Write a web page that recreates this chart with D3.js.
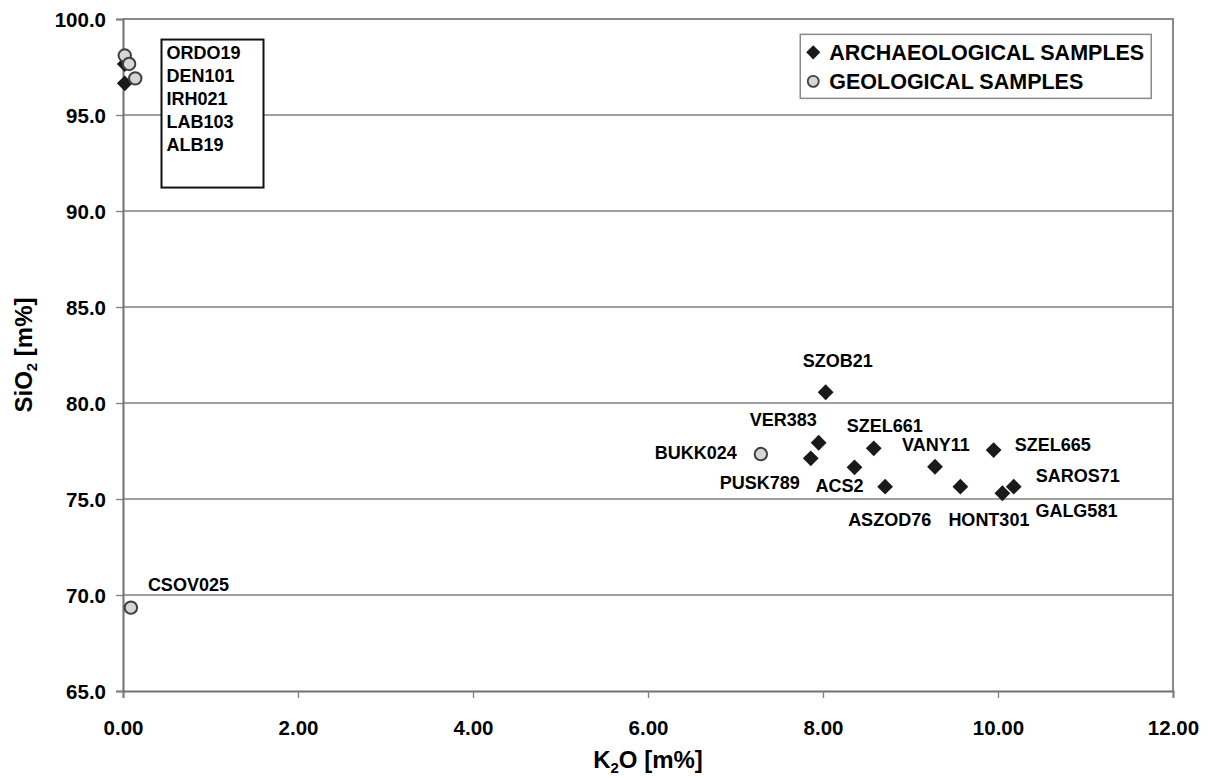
<!DOCTYPE html>
<html>
<head>
<meta charset="utf-8">
<script src="https://cdn.jsdelivr.net/npm/d3@7"></script>
<style>
  body { margin: 0; background: #fff; }
  text { font-family: "Liberation Sans", Arial, sans-serif; font-weight: bold; fill: #000; }
</style>
</head>
<body>
<svg width="1209" height="778"></svg>
<script>
// archaeological samples (diamonds)
const archNames = ['IRH021', 'ALB19', 'SZOB21', 'VER383', 'PUSK789', 'ACS2', 'SZEL661', 'ASZOD76', 'VANY11', 'HONT301', 'SZEL665', 'GALG581', 'SAROS71']
const archK2O   = [0.02, 0.02, 8.03, 7.95, 7.86, 8.36, 8.58, 8.71, 9.28, 9.57, 9.95, 10.05, 10.18]
const archSiO2  = [96.65, 97.65, 80.56, 77.93, 77.12, 76.65, 77.64, 75.64, 76.68, 75.64, 77.55, 75.30, 75.64]

// geological samples (circles)
const geoNames = ['ORDO19', 'DEN101', 'LAB103', 'BUKK024', 'CSOV025']
const geoK2O   = [0.02, 0.07, 0.14, 7.29, 0.09]
const geoSiO2  = [98.10, 97.66, 96.91, 77.34, 69.34]

const xTicks = [0, 2, 4, 6, 8, 10, 12]
const yTicks = [65, 70, 75, 80, 85, 90, 95, 100]
const boxLabels = ['ORDO19', 'DEN101', 'IRH021', 'LAB103', 'ALB19']
const legendLabels = ['ARCHAEOLOGICAL SAMPLES', 'GEOLOGICAL SAMPLES']

// label placement relative to the point (pixels), only for labelled points
const labelPos = {
    SZOB21:  [-23, -32, 'start'],
    VER383:  [-69, -23, 'start'],
    PUSK789: [-11, 24, 'end'],
    ACS2:    [-39, 18, 'start'],
    SZEL661: [-27, -23, 'start'],
    ASZOD76: [-37, 33, 'start'],
    VANY11:  [-33, -22, 'start'],
    HONT301: [-12, 33, 'start'],
    SZEL665: [21, -5, 'start'],
    GALG581: [33, 17, 'start'],
    SAROS71: [22, -11, 'start'],
    BUKK024: [-24, -1, 'end'],
    CSOV025: [17, -23, 'start']
}

const arch = archNames.map((n, i) => ({ name: n, x: archK2O[i], y: archSiO2[i] }))
const geo = geoNames.map((n, i) => ({ name: n, x: geoK2O[i], y: geoSiO2[i] }))

const svg = d3.select('svg')
const margin = { top: 19, right: 36, bottom: 87, left: 123 },
      width = +svg.attr('width') - margin.left - margin.right,
      height = +svg.attr('height') - margin.top - margin.bottom

const x = d3.scaleLinear().domain([0, 12]).range([0, width])
const y = d3.scaleLinear().domain([65, 100]).range([height, 0])

const g = svg.append('g').attr('transform', `translate(${margin.left},${margin.top})`)

// gridlines
g.append('g').selectAll('line')
    .data(yTicks.slice(1))
    .join('line')
    .attr('x1', 0).attr('x2', width)
    .attr('y1', d => y(d)).attr('y2', d => y(d))
    .attr('stroke', '#808080').attr('stroke-width', 1.3)

// plot border (top + right)
g.append('path')
    .attr('d', `M0,0H${width}V${height}`)
    .attr('fill', 'none').attr('stroke', '#8a8a8a').attr('stroke-width', 2)

// axes
const xAxis = g.append('g')
    .attr('transform', `translate(0,${height})`)
    .call(d3.axisBottom(x).tickValues(xTicks).tickFormat(d3.format('.2f')).tickSize(7).tickPadding(22))
const yAxis = g.append('g')
    .call(d3.axisLeft(y).tickValues(yTicks).tickFormat(d3.format('.1f')).tickSize(7).tickPadding(10))

;[xAxis, yAxis].forEach(a => {
    a.select('.domain').attr('stroke', '#707070').attr('stroke-width', 2)
    a.selectAll('.tick line').attr('stroke', '#808080').attr('stroke-width', 1.3)
    a.selectAll('.tick text')
        .attr('font-family', '"Liberation Sans", Arial, sans-serif')
        .attr('font-weight', 'bold').attr('font-size', 20.5).attr('fill', '#000')
})
yAxis.selectAll('.tick text').attr('dy', '0.35em')

// axis titles
const xt = svg.append('text')
    .attr('x', margin.left + width / 2).attr('y', 768)
    .attr('text-anchor', 'middle').attr('font-size', 24)
xt.append('tspan').text('K')
xt.append('tspan').text('2').attr('font-size', 15).attr('dy', 5)
xt.append('tspan').text('O [m%]').attr('dy', -5)

const yt = svg.append('text')
    .attr('transform', `translate(32,${margin.top + height / 2}) rotate(-90)`)
    .attr('text-anchor', 'middle').attr('font-size', 24)
yt.append('tspan').text('SiO')
yt.append('tspan').text('2').attr('font-size', 15).attr('dy', 5)
yt.append('tspan').text(' [m%]').attr('dy', -5)

// name box, top left
const box = g.append('g').attr('transform', `translate(${x(0.44)},${y(98.93)})`)
box.append('rect')
    .attr('width', 102).attr('height', 148)
    .attr('fill', '#fff').attr('stroke', '#111').attr('stroke-width', 2)
box.selectAll('text')
    .data(boxLabels)
    .join('text')
    .attr('x', 5).attr('y', (d, i) => 19 + i * 23.2)
    .attr('font-size', 18)
    .text(d => d)

// legend
const lg = g.append('g').attr('transform', `translate(${x(7.74)},${y(99.2)})`)
lg.append('rect')
    .attr('width', 351).attr('height', 64)
    .attr('fill', '#fff').attr('stroke', '#8a8a8a').attr('stroke-width', 1.5)
lg.append('path')
    .attr('d', d3.symbol(d3.symbolSquare, 100)())
    .attr('transform', 'translate(13,18) rotate(45)')
    .attr('fill', '#1a1a1a')
lg.append('circle')
    .attr('cx', 13).attr('cy', 47).attr('r', 5.5)
    .attr('fill', '#d6d6d6').attr('stroke', '#404040').attr('stroke-width', 1.8)
lg.selectAll('text')
    .data(legendLabels)
    .join('text')
    .attr('x', 29).attr('y', (d, i) => 25.5 + i * 29)
    .attr('font-size', 21.5)
    .text(d => d)

// points
g.append('g').selectAll('path')
    .data(arch)
    .join('path')
    .attr('d', d3.symbol(d3.symbolSquare, 125)())
    .attr('transform', d => `translate(${x(d.x)},${y(d.y)}) rotate(45)`)
    .attr('fill', '#1a1a1a')

g.append('g').selectAll('circle')
    .data(geo)
    .join('circle')
    .attr('cx', d => x(d.x)).attr('cy', d => y(d.y)).attr('r', 6.2)
    .attr('fill', '#d6d6d6').attr('stroke', '#404040').attr('stroke-width', 2)

// point labels
g.append('g').selectAll('text')
    .data(arch.concat(geo).filter(d => labelPos[d.name]))
    .join('text')
    .attr('x', d => x(d.x) + labelPos[d.name][0])
    .attr('y', d => y(d.y) + labelPos[d.name][1])
    .attr('dy', '0.35em')
    .attr('text-anchor', d => labelPos[d.name][2])
    .attr('font-size', 18)
    .text(d => d.name)
</script>
</body>
</html>
